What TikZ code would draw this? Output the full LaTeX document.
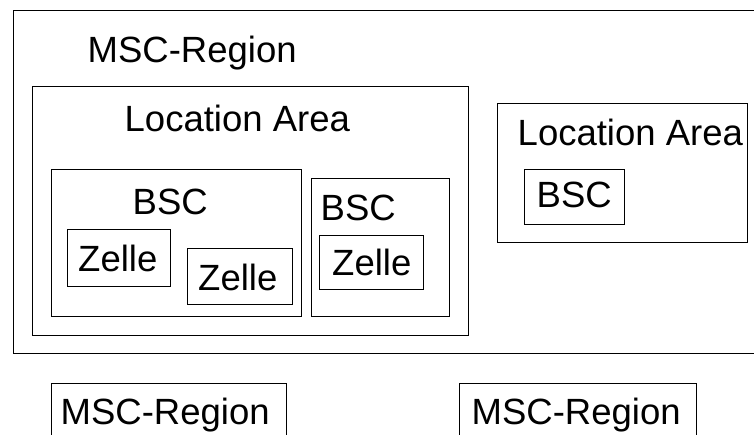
\documentclass[tikz,border=0pt]{standalone}
\usepackage{fontspec}
\setmainfont{Liberation Sans}
\usepackage{tikz}
\usetikzlibrary{positioning}

\tikzset{
    box/.style={draw, line width=1pt, inner sep=0pt, outer sep=0pt, anchor=north west},
    lbl/.style={inner sep=0pt, anchor=base west, font=\fontsize{36.5}{40}\selectfont}
}

\begin{document}
\begin{tikzpicture}[x=1pt, y=-1pt]
    \clip (0,0) rectangle (754,434);
    % MSC region with its location areas
    \node[box, minimum width=787, minimum height=343] (msc) at (13,10) {};
    \node[lbl] (msclbl) at (87.5,62) {MSC-Region};
    \node[box, minimum width=436, minimum height=249] (laleft) at (32,86) {};
    \node[lbl] (laleftlbl) at (124.5,131) {Location Area};
    % BSCs and their cells
    \node[box, minimum width=250, minimum height=147] (bscone) at (51,169) {};
    \node[lbl] (bsconelbl) at (132.5,214) {BSC};
    \node[box, minimum width=103, minimum height=57] (zone) at (67,229) {};
    \node[lbl] (zonelbl) at (78,271) {Zelle};
    \node[box, minimum width=105, minimum height=56] (ztwo) at (187,248) {};
    \node[lbl] (ztwolbl) at (198,290) {Zelle};
    \node[box, minimum width=138, minimum height=138] (bsctwo) at (311,178) {};
    \node[lbl] (bsctwolbl) at (320.5,220) {BSC};
    \node[box, minimum width=104, minimum height=54] (zthree) at (319,235) {};
    \node[lbl] (zthreelbl) at (332,275) {Zelle};
    % second location area
    \node[box, minimum width=250, minimum height=139] (laright) at (497,103) {};
    \node[lbl] (larightlbl) at (517.5,145) {Location Area};
    \node[box, minimum width=100, minimum height=55] (bscthree) at (524,169) {};
    \node[lbl] (bscthreelbl) at (536.5,207) {BSC};
    % further MSC regions
    \node[box, minimum width=235, minimum height=77] (mscleft) at (51,383) {};
    \node[lbl] (mscleftlbl) at (60.5,424) {MSC-Region};
    \node[box, minimum width=237, minimum height=77] (mscright) at (459,383) {};
    \node[lbl] (mscrightlbl) at (471.5,424) {MSC-Region};
\end{tikzpicture}
\end{document}
